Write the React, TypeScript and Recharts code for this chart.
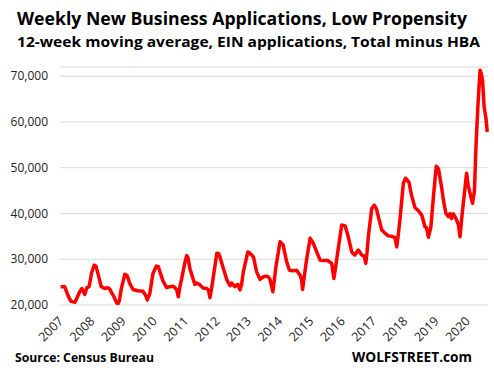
import React from 'react';
import { LineChart, Line, XAxis, YAxis, CartesianGrid } from 'recharts';

// decimal year of each reading, weekly series thinned out
const weeks = [
  2007.02, 2007.15, 2007.26, 2007.35, 2007.48, 2007.63, 2007.7, 2007.79, 2007.86, 2007.93,
  2008.01, 2008.09, 2008.15, 2008.21, 2008.32, 2008.43, 2008.52, 2008.59, 2008.63, 2008.73,
  2008.81, 2008.85, 2008.9, 2008.95, 2009.07, 2009.14, 2009.23, 2009.33, 2009.49, 2009.65,
  2009.73, 2009.79, 2009.87, 2009.97, 2010.08, 2010.14, 2010.19, 2010.3, 2010.41, 2010.51,
  2010.61, 2010.67, 2010.73, 2010.78, 2010.83, 2010.89, 2010.98, 2011.05, 2011.09, 2011.15,
  2011.26, 2011.31, 2011.37, 2011.47, 2011.57, 2011.69, 2011.74, 2011.79, 2011.84, 2011.9,
  2012.01, 2012.07, 2012.11, 2012.22, 2012.33, 2012.43, 2012.48, 2012.59, 2012.68, 2012.75,
  2012.8, 2012.86, 2013.0, 2013.07, 2013.18, 2013.28, 2013.39, 2013.5, 2013.58, 2013.65,
  2013.71, 2013.8, 2013.84, 2013.9, 2014.03, 2014.13, 2014.24, 2014.33, 2014.45, 2014.56,
  2014.67, 2014.72, 2014.75, 2014.8, 2014.86, 2014.99, 2015.09, 2015.2, 2015.31, 2015.4,
  2015.56, 2015.68, 2015.75, 2015.8, 2015.86, 2016.0, 2016.11, 2016.21, 2016.32, 2016.42,
  2016.53, 2016.64, 2016.72, 2016.77, 2016.81, 2016.85, 2016.96, 2017.04, 2017.11, 2017.17,
  2017.28, 2017.38, 2017.49, 2017.6, 2017.7, 2017.76, 2017.81, 2017.86, 2017.97, 2018.04,
  2018.15, 2018.23, 2018.34, 2018.45, 2018.56, 2018.66, 2018.71, 2018.77, 2018.85, 2018.93,
  2019.02, 2019.09, 2019.19, 2019.25, 2019.33, 2019.41, 2019.46, 2019.51, 2019.57, 2019.65,
  2019.73, 2019.78, 2019.85, 2019.92, 2019.99, 2020.04, 2020.1, 2020.18, 2020.24, 2020.29,
  2020.35, 2020.42, 2020.46, 2020.5, 2020.55, 2020.61, 2020.65,
];

const applications = [
  24000, 24000, 22000, 20800, 20600, 22900, 23600, 22300, 23800, 24000,
  27000, 28700, 28500, 26900, 24000, 23600, 23800, 23500, 22900, 21700,
  20500, 20200, 21000, 23300, 26700, 26500, 24700, 23400, 23100, 23000,
  22200, 21100, 22500, 26900, 28500, 28400, 27300, 25100, 23800, 24000,
  24100, 23800, 23300, 21800, 24000, 25800, 29000, 30800, 30300, 28000,
  25500, 24500, 24800, 24400, 23700, 23600, 23300, 21600, 23500, 26200,
  31300, 31200, 30500, 28000, 25500, 24200, 24800, 24000, 24500, 23300,
  24500, 27300, 31600, 31300, 30500, 27300, 25600, 26200, 26300, 26200,
  25600, 22900, 25000, 28400, 33800, 33100, 29500, 27600, 27500, 27600,
  26500, 25500, 23400, 26000, 29100, 34600, 33500, 31600, 29800, 29700,
  29700, 29100, 25800, 28000, 30900, 37500, 37300, 34900, 31600, 30900,
  32000, 30900, 30700, 29100, 31500, 34900, 41100, 41800, 41000, 39300,
  36400, 35700, 35100, 35000, 34700, 32700, 35500, 38600, 46600, 47700,
  46800, 44000, 41300, 40600, 39600, 37100, 36900, 34800, 37100, 43600,
  50300, 49800, 45800, 42900, 40000, 39300, 40000, 38900, 39900, 38900,
  37500, 34900, 40000, 44400, 48800, 46200, 44400, 42200, 44900, 54600,
  63300, 71300, 70500, 69100, 63300, 60700, 57800,
];

const yearTicks = [2007, 2008, 2009, 2010, 2011, 2012, 2013, 2014, 2015, 2016, 2017, 2018, 2019, 2020];
const valueTicks = [20000, 25000, 30000, 35000, 40000, 45000, 50000, 55000, 60000, 65000, 70000];

const data = weeks.map((t, i) => ({ t, value: applications[i] }));

const FONT = '"Open Sans", "Liberation Sans", sans-serif';

const YTick = ({ y, payload }: any) => (
  <text x={48} y={y} dy="0.35em" textAnchor="end" fontFamily={FONT} fontSize={12} fill="#222">
    {payload.value.toLocaleString('en-US')}
  </text>
);

const XTick = ({ x, payload }: any) => {
  const ax = x + 4;
  const ay = 322;
  return (
    <text
      x={ax}
      y={ay}
      transform={`rotate(-45 ${ax} ${ay})`}
      textAnchor="end"
      fontFamily={FONT}
      fontSize={12.5}
      fill="#222"
    >
      {payload.value}
    </text>
  );
};

export default function App() {
  return (
    <div style={{ position: 'absolute', left: 0, top: 0, width: 494, height: 376, background: '#fff' }}>
      <LineChart width={494} height={376} data={data} margin={{ top: 67, right: 6, bottom: 0, left: 0 }}>
        <CartesianGrid vertical={false} stroke="#D9D9D9" />
        <XAxis
          type="number"
          dataKey="t"
          domain={[2007, 2020.674]}
          ticks={yearTicks}
          interval={0}
          height={71}
          axisLine={false}
          tickLine={false}
          tick={<XTick />}
        />
        <YAxis
          domain={[20000, 72000]}
          ticks={valueTicks}
          allowDataOverflow
          width={60}
          axisLine={false}
          tickLine={false}
          tick={<YTick />}
        />
        <Line
          type="linear"
          dataKey="value"
          stroke="#FF0000"
          strokeWidth={3.5}
          strokeLinejoin="round"
          dot={false}
          isAnimationActive={false}
        />
      </LineChart>
      <svg width={494} height={376} style={{ position: 'absolute', left: 0, top: 0, pointerEvents: 'none', whiteSpace: 'pre' }}>
        <text x={17} y={25} fontFamily={FONT} fontWeight="bold" fontSize={17} textLength={450} lengthAdjust="spacingAndGlyphs">
          {'Weekly New Business  Applications,  Low Propensity'}
        </text>
        <text x={17} y={47} fontFamily={FONT} fontWeight="bold" fontSize={14.5} textLength={463} lengthAdjust="spacingAndGlyphs">
          {'12-week moving average, EIN applications, Total minus HBA'}
        </text>
        <text x={15} y={362} fontFamily={FONT} fontWeight="bold" fontSize={12.5} textLength={139} lengthAdjust="spacingAndGlyphs">
          {'Source: Census Bureau'}
        </text>
        <text x={352} y={362} fontFamily={FONT} fontWeight="bold" fontSize={14} textLength={120} lengthAdjust="spacingAndGlyphs">
          {'WOLFSTREET.com'}
        </text>
      </svg>
    </div>
  );
}
